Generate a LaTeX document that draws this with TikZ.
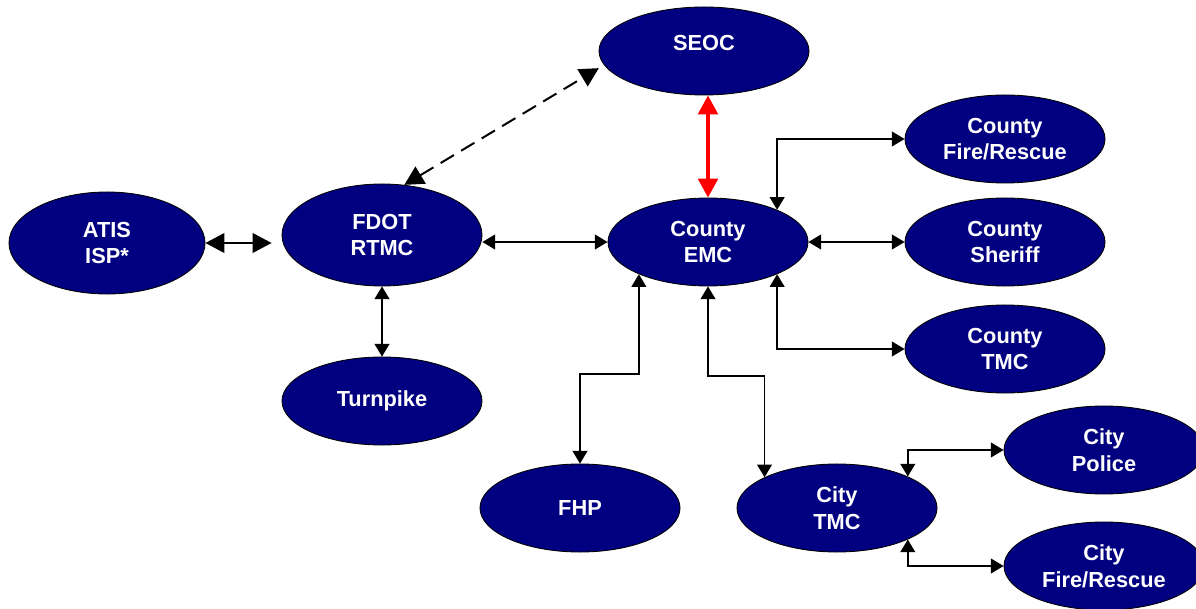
\documentclass[tikz,border=0pt]{standalone}
\usepackage{fontspec}
\setmainfont{Liberation Sans}
\usetikzlibrary{shapes.geometric,arrows.meta}
\definecolor{agencyblue}{RGB}{0,0,128}

\begin{document}
\begin{tikzpicture}[x=0.025cm,y=-0.025cm,
  agency/.style={ellipse,draw=black,line width=0.6pt,fill=agencyblue,text=white,
    font=\bfseries\fontsize{15.5}{19}\selectfont,align=center,inner sep=0pt,
    minimum width=5cm,minimum height=2.2cm},
  link/.style={line width=1.2pt,{Triangle[length=9pt,width=10.5pt]}-{Triangle[length=9pt,width=10.5pt]}},
  biglink/.style={line width=1.4pt,{Triangle[length=13.5pt,width=14pt]}-{Triangle[length=13.5pt,width=14pt]}}]
\useasboundingbox (0,0) rectangle (1196,609);

% centres
\node[agency,minimum width=5.25cm] (seoc) at (704,51) {\raisebox{0.2cm}[\height][\depth]{SEOC}};
\node[agency,minimum width=4.9cm,minimum height=2.55cm] (atis) at (107,243) {ATIS\\ISP*};
\node[agency,minimum height=2.55cm] (fdot) at (382,235) {FDOT\\RTMC};
\node[agency] (emc) at (708,242) {County\\EMC};
\node[agency] (turnpike) at (382,401) {Turnpike};
\node[agency] (fhp) at (580,508) {FHP};

% county side
\node[agency] (cfire) at (1005,139) {County\\Fire/Rescue};
\node[agency] (sheriff) at (1005,242) {County\\Sheriff};
\node[agency] (ctmc) at (1005,349) {County\\TMC};

% city side
\node[agency] (citytmc) at (837,508) {City\\TMC};
\node[agency] (police) at (1104,450) {City\\Police};
\node[agency] (cityfire) at (1104,566) {City\\Fire/Rescue};

\draw[biglink,shorten >=0.25cm] (atis.east) -- (atis.east -| fdot.west);
\draw[biglink,dashed,dash pattern=on 11pt off 6pt,shorten >=0.15cm] (fdot.66) -- (seoc.188);
\draw[biglink,red,line width=2.6pt] (seoc.south -| emc.north) -- (emc.north);
\draw[link] (fdot.east |- emc.west) -- (emc.west);
\draw[link] (fdot.south) -- (turnpike.north);

\draw[link] (emc.25) |- (cfire.west);
\draw[link] (emc.east) -- (sheriff.west);
\draw[link] (emc.-25) |- (ctmc.west);
\draw[link] (emc.205) -- ++(0,100) -| (fhp.north);
\draw[link] (emc.south) -- ++(0,89.5) -| (citytmc.157);

\draw[link] (citytmc.24) |- (police.west);
\draw[link] (citytmc.-24) |- (cityfire.west);
\end{tikzpicture}
\end{document}
